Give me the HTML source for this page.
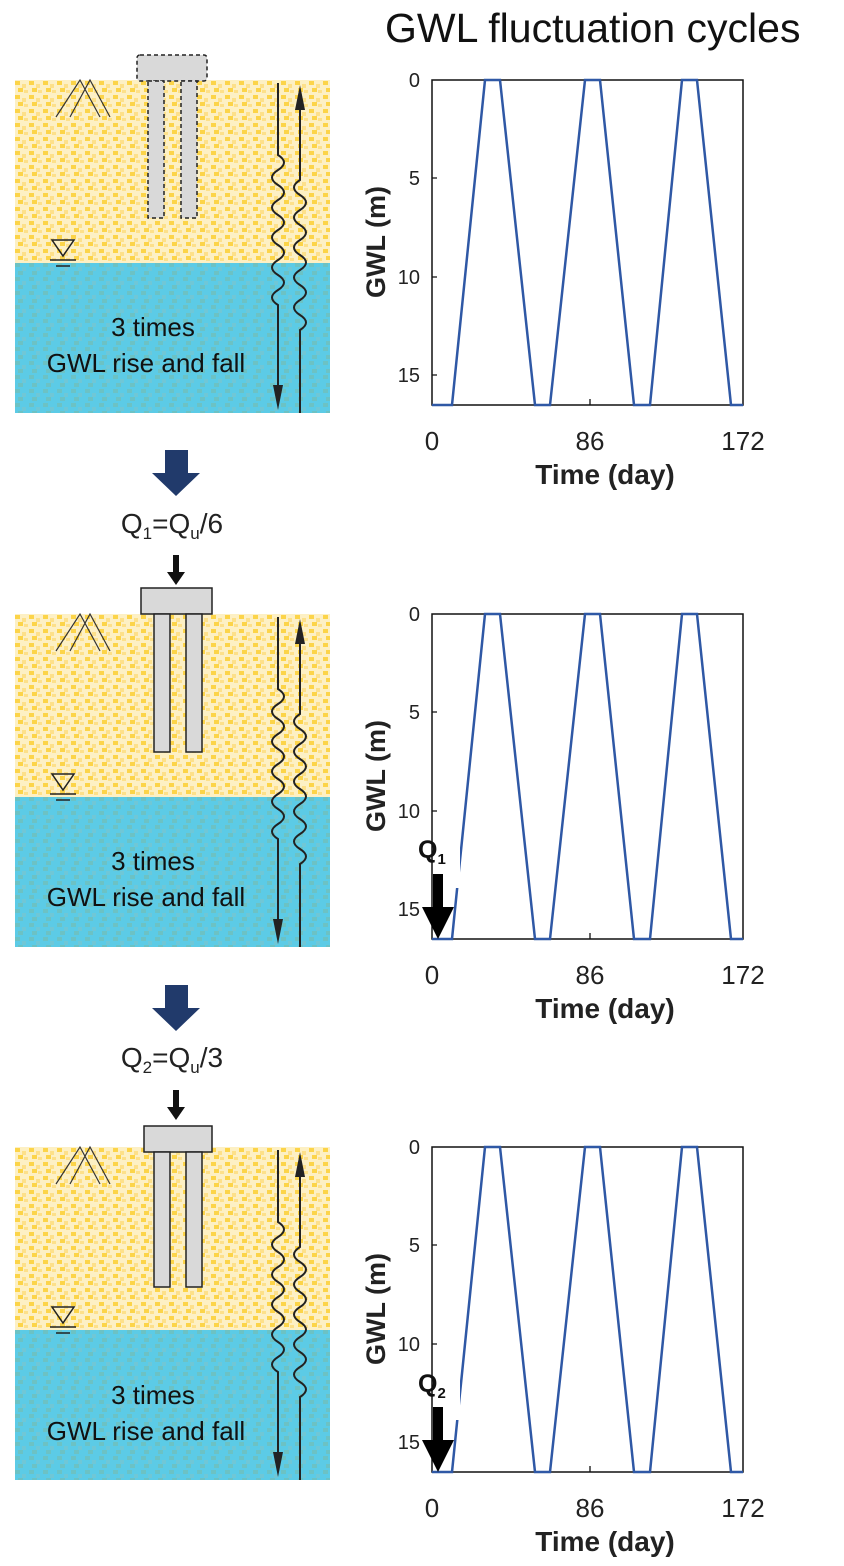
<!DOCTYPE html>
<html><head><meta charset="utf-8"><style>
html,body{margin:0;padding:0;background:#fff}
svg{display:block}
text{font-family:"Liberation Sans",sans-serif}
</style></head><body>
<svg width="844" height="1566" viewBox="0 0 844 1566" xmlns="http://www.w3.org/2000/svg">
<defs>
<pattern id="sand" width="14" height="14" patternUnits="userSpaceOnUse">
<rect width="14" height="14" fill="#fdf0c4"/>
<rect x="1" y="1" width="5" height="4" fill="#fcd449"/>
<rect x="8" y="4" width="4" height="4" fill="#fde08a"/>
<rect x="4" y="8" width="5" height="4" fill="#fcd449"/>
<rect x="10" y="10" width="4" height="3" fill="#fde08a"/>
</pattern>
<pattern id="water" width="14" height="14" patternUnits="userSpaceOnUse">
<rect width="14" height="14" fill="#5ccbe6"/>
<rect x="1" y="1" width="5" height="4" fill="#6cc2c4"/>
<rect x="8" y="5" width="4" height="4" fill="#70c7d6"/>
<rect x="4" y="9" width="5" height="4" fill="#6cc2c4"/>
</pattern>
<g id="panel">
<rect x="15" y="0" width="315" height="183" fill="url(#sand)"/>
<rect x="15" y="183" width="315" height="150" fill="url(#water)"/>
<path d="M56,37 L80,0 L100,37 M70,37 L90,0 L110,37" stroke="#333" stroke-width="1.2" fill="none"/>
<path d="M52,160 L74,160 L63,176 Z" fill="none" stroke="#222" stroke-width="1.5"/>
<path d="M50,180 H76 M56,186 H70" stroke="#222" stroke-width="1.5"/>
<path d="M278,3 V75 q12,7.5 0,15 t0,15 t0,15 t0,15 t0,15 t0,15 t0,15 t0,15 t0,15 t0,15 V315" stroke="#222" stroke-width="2" fill="none"/>
<path d="M273,305 L283,305 L278,330 Z" fill="#222"/>
<path d="M300,333 V250 q12,-7.5 0,-15 t0,-15 t0,-15 t0,-15 t0,-15 t0,-15 t0,-15 t0,-15 t0,-15 t0,-15 V25" stroke="#222" stroke-width="2" fill="none"/>
<path d="M295,30 L305,30 L300,5 Z" fill="#222"/>
</g>
<g id="chart" font-size="20" fill="#222">
<rect x="432" y="0" width="311" height="325" fill="none" stroke="#111" stroke-width="1.5"/>
<path d="M432,98 h5 M432,197 h5 M432,295 h5 M590,325 v-6" stroke="#111" stroke-width="1.3"/>
<text x="420" y="7" text-anchor="end">0</text>
<text x="420" y="105" text-anchor="end">5</text>
<text x="420" y="204" text-anchor="end">10</text>
<text x="420" y="302" text-anchor="end">15</text>
<text x="432" y="370" text-anchor="middle" font-size="26">0</text>
<text x="590" y="370" text-anchor="middle" font-size="26">86</text>
<text x="743" y="370" text-anchor="middle" font-size="26">172</text>
<text x="605" y="404" text-anchor="middle" font-size="28" font-weight="bold">Time  (day)</text>
<text transform="translate(385,162) rotate(-90)" text-anchor="middle" font-size="27" font-weight="bold">GWL (m)</text>
<polyline points="432,325 452,325 485,0 500,0 535,325 550,325 585,0 600,0 634,325 650,325 682,0 697,0 731,325 743,325" fill="none" stroke="#2f58a5" stroke-width="2.5"/>
</g>
</defs>

<text x="385" y="42" font-size="41" fill="#111">GWL fluctuation cycles</text>

<!-- Panel 1 -->
<use href="#panel" y="80"/>
<rect x="137" y="55" width="70" height="26" rx="3" fill="#d9d9d9" stroke="#222" stroke-width="1.5" stroke-dasharray="4,3"/>
<rect x="148" y="81" width="16" height="137" fill="#d9d9d9" stroke="#222" stroke-width="1.5" stroke-dasharray="4,3"/>
<rect x="181" y="81" width="16" height="137" fill="#d9d9d9" stroke="#222" stroke-width="1.5" stroke-dasharray="4,3"/>
<text x="153" y="336" text-anchor="middle" font-size="26" fill="#111">3 times</text>
<text x="146" y="372" text-anchor="middle" font-size="26" fill="#111">GWL rise and fall</text>
<use href="#chart" y="80"/>

<!-- arrow 1 -->
<path d="M165,450 H188 V473 H200 L176,496 L152,473 H165 Z" fill="#213a6b"/>
<text x="172" y="533" text-anchor="middle" font-size="28" fill="#222">Q<tspan font-size="17" dy="6">1</tspan><tspan dy="-6">=Q</tspan><tspan font-size="17" dy="6">u</tspan><tspan dy="-6">/6</tspan></text>
<path d="M173,555 h6 v17 h6 l-9,13 l-9,-13 h6 Z" fill="#111"/>

<!-- Panel 2 -->
<use href="#panel" y="614"/>
<rect x="141" y="588" width="71" height="26" fill="#d9d9d9" stroke="#222" stroke-width="1.5"/>
<rect x="154" y="614" width="16" height="138" fill="#d9d9d9" stroke="#222" stroke-width="1.5"/>
<rect x="186" y="614" width="16" height="138" fill="#d9d9d9" stroke="#222" stroke-width="1.5"/>
<text x="153" y="870" text-anchor="middle" font-size="26" fill="#111">3 times</text>
<text x="146" y="906" text-anchor="middle" font-size="26" fill="#111">GWL rise and fall</text>
<use href="#chart" y="614"/>
<rect x="433" y="836" width="27" height="52" fill="#fff"/>
<text x="418" y="858" font-size="25" font-weight="bold" fill="#111">Q<tspan font-size="15" dy="6">1</tspan></text>
<path d="M433,874 h10 v33 h11 l-16,32 l-16,-32 h11 Z" fill="#000"/>

<!-- arrow 2 -->
<path d="M165,985 H188 V1008 H200 L176,1031 L152,1008 H165 Z" fill="#213a6b"/>
<text x="172" y="1067" text-anchor="middle" font-size="28" fill="#222">Q<tspan font-size="17" dy="6">2</tspan><tspan dy="-6">=Q</tspan><tspan font-size="17" dy="6">u</tspan><tspan dy="-6">/3</tspan></text>
<path d="M173,1090 h6 v17 h6 l-9,13 l-9,-13 h6 Z" fill="#111"/>

<!-- Panel 3 -->
<use href="#panel" y="1147"/>
<rect x="144" y="1126" width="68" height="26" fill="#d9d9d9" stroke="#222" stroke-width="1.5"/>
<rect x="154" y="1152" width="16" height="135" fill="#d9d9d9" stroke="#222" stroke-width="1.5"/>
<rect x="186" y="1152" width="16" height="135" fill="#d9d9d9" stroke="#222" stroke-width="1.5"/>
<text x="153" y="1404" text-anchor="middle" font-size="26" fill="#111">3 times</text>
<text x="146" y="1440" text-anchor="middle" font-size="26" fill="#111">GWL rise and fall</text>
<use href="#chart" y="1147"/>
<rect x="433" y="1368" width="27" height="52" fill="#fff"/>
<text x="418" y="1392" font-size="25" font-weight="bold" fill="#111">Q<tspan font-size="15" dy="6">2</tspan></text>
<path d="M433,1407 h10 v33 h11 l-16,32 l-16,-32 h11 Z" fill="#000"/>
</svg>
</body></html>
